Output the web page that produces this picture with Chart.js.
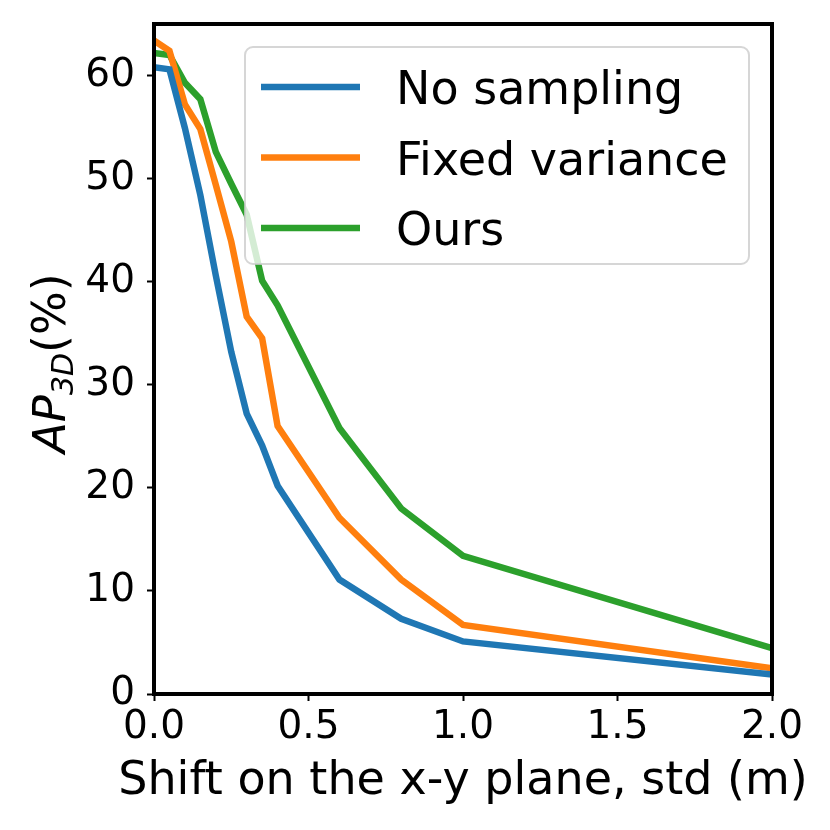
<!doctype html>
<html>

<head>
  <meta charset="utf-8">
  <script src="https://cdn.jsdelivr.net/npm/chart.js@4.4.0/dist/chart.umd.min.js"></script>
  <style>
    body { margin: 0; background: #fff; }
  </style>
</head>

<body>
  <canvas id="myChart" width="830" height="830"></canvas>
  <script>
    // shift std (m) on the x-y plane
    const shifts = [0, 0.05, 0.1, 0.15, 0.2, 0.25, 0.3, 0.35, 0.4, 0.6, 0.8, 1.0, 2.0];
    const noSampling = [60.8, 60.6, 54.9, 48.4, 40.6, 33.2, 27.2, 24.1, 20.2, 11.1, 7.3, 5.1, 1.9];
    const fixedVariance = [63.4, 62.4, 57.2, 54.8, 49.4, 43.9, 36.6, 34.5, 26.0, 17.1, 11.1, 6.7, 2.5];
    const ours = [62.2, 62.0, 59.3, 57.7, 52.6, 49.5, 46.5, 40.1, 37.7, 25.8, 18.0, 13.4, 4.45];
    const seriesNames = ['No sampling', 'Fixed variance', 'Ours'];
    const xTicks = [0, 0.5, 1.0, 1.5, 2.0];
    const yTicks = [0, 10, 20, 30, 40, 50, 60];

    const colors = ['#1f77b4', '#ff7f0e', '#2ca02c'];
    const font = "'DejaVu Sans', sans-serif";

    function toPoints(ys) {
      return shifts.map((x, i) => ({ x, y: ys[i] }));
    }

    // chart.js keeps room for half a tick label at the ends, we don't want that
    function noPad(scale) {
      scale.paddingTop = 0;
      scale.paddingBottom = 0;
      scale.paddingLeft = 0;
      scale.paddingRight = 0;
    }

    const extras = {
      id: 'extras',
      afterDatasetsDraw(chart) {
        const ctx = chart.ctx;
        const a = chart.chartArea;
        ctx.save();
        // frame
        ctx.strokeStyle = '#000';
        ctx.lineWidth = 4;
        ctx.strokeRect(a.left, a.top, a.right - a.left, a.bottom - a.top);

        // legend box, upper right
        const bx = a.left + 91, by = a.top + 23, bw = 504, bh = 217, r = 8;
        ctx.beginPath();
        ctx.roundRect(bx, by, bw, bh, r);
        ctx.fillStyle = 'rgba(255,255,255,0.8)';
        ctx.fill();
        ctx.strokeStyle = 'rgba(204,204,204,0.8)';
        ctx.lineWidth = 2;
        ctx.stroke();

        ctx.font = '46px ' + font;
        ctx.textAlign = 'left';
        ctx.textBaseline = 'alphabetic';
        chart.data.datasets.forEach((ds, i) => {
          const y = by + 40 + i * 70.5;
          ctx.strokeStyle = ds.borderColor;
          ctx.lineWidth = 6.5;
          ctx.beginPath();
          ctx.moveTo(bx + 16, y);
          ctx.lineTo(bx + 115, y);
          ctx.stroke();
          ctx.fillStyle = '#000';
          ctx.fillText(ds.label, bx + 151, y + 17);
        });
        ctx.restore();
      },
      afterDraw(chart) {
        const ctx = chart.ctx;
        const a = chart.chartArea;
        ctx.save();
        ctx.fillStyle = '#000';
        // x label
        ctx.font = '46px ' + font;
        ctx.textAlign = 'center';
        ctx.textBaseline = 'alphabetic';
        ctx.fillText('Shift on the x-y plane, std (m)', (a.left + a.right) / 2, 794);

        // y label AP_3D(%)
        ctx.translate(0, 453);
        ctx.rotate(-Math.PI / 2);
        ctx.textAlign = 'left';
        ctx.font = 'italic 45px ' + font;
        ctx.fillText('AP', 0, 65);
        const w1 = ctx.measureText('AP').width;
        ctx.font = 'italic 30px ' + font;
        ctx.fillText('3D', w1, 73);
        const w2 = ctx.measureText('3D').width;
        ctx.font = '46px ' + font;
        ctx.fillText('(%)', w1 + w2, 65);
        ctx.restore();
      }
    };

    const ctx = document.getElementById('myChart').getContext('2d');
    const myChart = new Chart(ctx, {
      type: 'line',
      data: {
        datasets: [noSampling, fixedVariance, ours].map((ys, i) => ({
          label: seriesNames[i],
          data: toPoints(ys),
          borderColor: colors[i],
          backgroundColor: colors[i],
          borderWidth: 6.5,
          pointRadius: 0,
          tension: 0,
          fill: false
        }))
      },
      options: {
        responsive: false,
        animation: false,
        devicePixelRatio: 1,
        layout: { padding: { left: 0, top: 24, right: 58, bottom: 0 } },
        plugins: {
          legend: { display: false },
          tooltip: { enabled: false }
        },
        scales: {
          x: {
            type: 'linear',
            min: 0,
            max: 2,
            afterBuildTicks: (scale) => { scale.ticks = xTicks.map(v => ({ value: v })); },
            afterFit: (scale) => { scale.height = 136; noPad(scale); },
            grid: { drawOnChartArea: false, drawTicks: true, tickLength: 7, tickWidth: 2, tickColor: '#000' },
            border: { display: false },
            ticks: {
              color: '#000',
              padding: 3,
              maxRotation: 0,
              font: { family: font, size: 39 },
              callback: (v) => v.toFixed(1)
            }
          },
          y: {
            min: 0,
            max: 65,
            afterBuildTicks: (scale) => { scale.ticks = yTicks.map(v => ({ value: v })); },
            afterFit: (scale) => { scale.width = 154; noPad(scale); },
            grid: { drawOnChartArea: false, drawTicks: true, tickLength: 7, tickWidth: 2, tickColor: '#000' },
            border: { display: false },
            ticks: {
              color: '#000',
              padding: 12,
              font: { family: font, size: 39 },
              callback: (v) => String(v)
            }
          }
        }
      },
      plugins: [extras]
    });
  </script>
</body>

</html>
